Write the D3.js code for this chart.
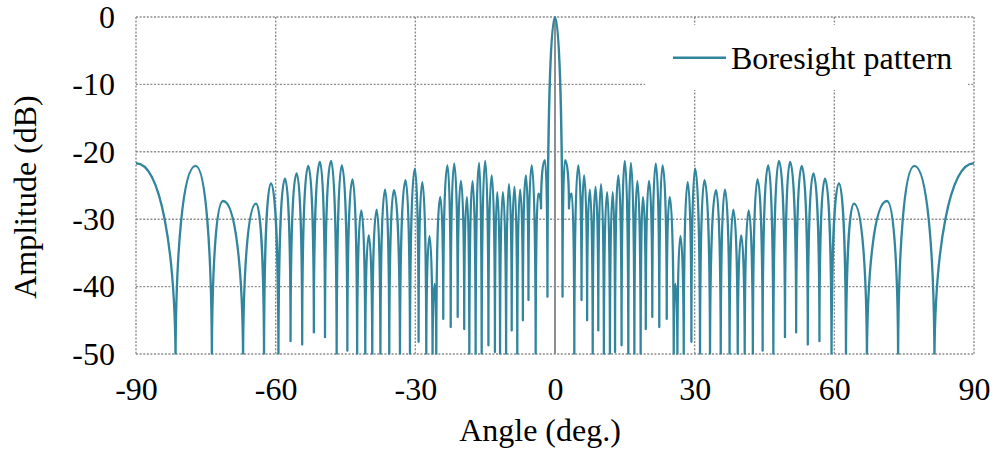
<!DOCTYPE html>
<html>
<head>
<meta charset="utf-8">
<script src="https://cdn.jsdelivr.net/npm/d3@7"></script>
<style>
  html, body { margin: 0; padding: 0; background: #fff; }
  svg { display: block; }
  text { font-family: "Liberation Serif", "Times New Roman", serif; fill: #000; }
</style>
</head>
<body>
<svg id="chart" width="996" height="454"></svg>
<script>
// Boresight array pattern: lobe peaks and nulls (angle in degrees, level in dB).
// Nulls deeper than the plotted floor are listed at -52 dB and clipped at -50.
const angleDeg = [
  -90, -81.5, -77.2, -73.7, -71.3, -67.0, -64.2, -62.5, -61.0, -59.4,
  -58.0, -56.8, -55.5, -54.3, -53.0, -51.8, -50.5, -49.4, -48.1, -46.9,
  -45.8, -44.6, -43.5, -42.5, -41.6, -40.75, -40.0, -39.25, -38.3, -37.5,
  -36.5, -35.6, -34.6, -33.3, -32.1, -31.15, -30.1, -29.3, -28.5, -27.65,
  -26.95, -26.3, -25.85, -25.5, -24.65, -24.0, -23.1, -22.4, -21.65, -20.9,
  -20.2, -19.5, -18.9, -18.4, -17.7, -17.05, -16.3, -15.75, -15.0, -14.3,
  -13.6, -12.9, -12.4, -11.8, -11.2, -10.5, -9.9, -9.3, -8.7, -8.1,
  -7.5, -6.9, -6.25, -5.7, -5.0, -4.15, -3.6, -3.0, -2.15, -1.62,
  0,
  1.62, 2.15, 3.0, 3.6, 4.15, 5.0, 5.7, 6.25, 6.9, 7.5,
  8.1, 8.7, 9.3, 9.9, 10.5, 11.2, 11.8, 12.4, 12.9, 13.6,
  14.3, 15.0, 15.75, 16.3, 17.05, 17.7, 18.4, 18.9, 19.5, 20.2,
  20.9, 21.65, 22.4, 23.1, 24.0, 24.65, 25.5, 25.85, 26.3, 26.95,
  27.65, 28.5, 29.3, 30.1, 31.15, 32.1, 33.3, 34.6, 35.6, 36.5,
  37.5, 38.3, 39.25, 40.0, 40.75, 41.6, 42.5, 43.5, 44.6, 45.8,
  46.9, 48.1, 49.4, 50.5, 51.8, 53.0, 54.3, 55.5, 56.8, 58.0,
  59.4, 61.0, 62.5, 64.2, 67.0, 71.3, 73.7, 77.2, 81.5, 90
];

const boresightDb = [
  -21.7, -52, -22.1, -52, -27.3, -52, -27.7, -52, -24.7, -52,
  -24.0, -48.1, -23.2, -48.6, -22.1, -46.8, -21.5, -47.5, -21.35, -52,
  -22.0, -49.5, -24.1, -52, -28.7, -52, -32.4, -52, -28.6, -52,
  -25.6, -52, -25.7, -52, -24.2, -52, -22.5, -48.2, -24.5, -52,
  -32.5, -52, -39.6, -52, -26.7, -44.8, -22.0, -46.0, -21.75, -44.5,
  -24.3, -46.3, -26.7, -52, -24.35, -52, -21.65, -52, -21.35, -48.7,
  -23.5, -49.7, -26.0, -52, -26.0, -52, -24.8, -46.5, -25.2, -52,
  -25.6, -45.0, -23.5, -42.0, -22.0, -52, -26.2, -28.4, -21.25, -41.5,
  0,
  -41.5, -21.25, -28.4, -26.2, -52, -22.0, -42.0, -23.5, -45.0, -25.6,
  -52, -25.2, -46.5, -24.8, -52, -26.0, -52, -26.0, -49.7, -23.5,
  -48.7, -21.35, -52, -21.65, -52, -24.35, -52, -26.7, -46.3, -24.3,
  -44.5, -21.75, -46.0, -22.0, -44.8, -26.7, -52, -39.6, -52, -32.5,
  -52, -24.5, -48.2, -22.5, -52, -24.2, -52, -25.7, -52, -25.6,
  -52, -28.6, -52, -32.4, -52, -28.7, -52, -24.1, -49.5, -22.0,
  -52, -21.35, -47.5, -21.5, -46.8, -22.1, -48.6, -23.2, -48.1, -24.0,
  -52, -24.7, -52, -27.7, -52, -27.3, -52, -22.1, -52, -21.7
];

const xTicks = [-90, -60, -30, 0, 30, 60, 90];
const yTicks = [0, -10, -20, -30, -40, -50];
const seriesName = "Boresight pattern";

const lineColor = "#31859c";
const gridColor = "#8c8c8c";

const svg = d3.select("#chart");
const plot = { left: 136, right: 974, top: 17, bottom: 354 };

const x = d3.scaleLinear().domain([-90, 90]).range([plot.left, plot.right]);
const y = d3.scaleLinear().domain([-50, 0]).range([plot.bottom, plot.top]);

// Dotted grid, including the frame at the domain limits
const grid = svg.append("g");
grid.selectAll("line.h").data(yTicks).join("line")
  .attr("x1", plot.left).attr("x2", plot.right)
  .attr("y1", d => y(d)).attr("y2", d => y(d))
  .attr("stroke", gridColor).attr("stroke-width", 1.4).attr("stroke-dasharray", "2,1.6");
grid.selectAll("line.v").data(xTicks.filter(d => d !== 0)).join("line")
  .attr("x1", d => x(d)).attr("x2", d => x(d))
  .attr("y1", plot.top).attr("y2", plot.bottom)
  .attr("stroke", gridColor).attr("stroke-width", 1.4).attr("stroke-dasharray", "2,1.6");

// Solid vertical axis line at 0 degrees
svg.append("line")
  .attr("x1", x(0)).attr("x2", x(0))
  .attr("y1", y(0)).attr("y2", y(-50))
  .attr("stroke", "#8f8f8f").attr("stroke-width", 2);

// Lobe curve: rounded at each peak, cusped at each null
const K = 0.6;
class LobeCurve {
  constructor(context) { this._context = context; }
  areaStart() { this._line = 0; }
  areaEnd() { this._line = NaN; }
  lineStart() { this._point = 0; }
  lineEnd() {}
  point(px, py) {
    px = +px; py = +py;
    if (this._point === 0) {
      this._point = 1;
      this._context.moveTo(px, py);
    } else {
      const x0 = this._x0, y0 = this._y0, dx = px - x0, dy = py - y0;
      if (py > y0) {
        this._context.bezierCurveTo(x0 + K * dx, y0, px, py - K * dy, px, py);
      } else {
        this._context.bezierCurveTo(x0, y0 + K * dy, px - K * dx, py, px, py);
      }
    }
    this._x0 = px; this._y0 = py;
  }
}
const lobeCurve = context => new LobeCurve(context);

svg.append("clipPath").attr("id", "plotClip")
  .append("rect")
  .attr("x", plot.left - 2).attr("y", 0)
  .attr("width", plot.right - plot.left + 4).attr("height", plot.bottom + 0.5);

const points = angleDeg.map((a, i) => [a, boresightDb[i]]);
const line = d3.line().x(d => x(d[0])).y(d => y(d[1])).curve(lobeCurve);

svg.append("path")
  .attr("clip-path", "url(#plotClip)")
  .attr("d", line(points))
  .attr("fill", "none")
  .attr("stroke", lineColor)
  .attr("stroke-width", 2.3)
  .attr("stroke-linejoin", "round");

// Axes (labels only); plain hyphen for negative values
const plainNumber = d => String(d);
const xAxis = svg.append("g")
  .attr("transform", `translate(0,${plot.bottom})`)
  .call(d3.axisBottom(x).tickValues(xTicks).tickSize(0).tickPadding(23).tickFormat(plainNumber));
const yAxis = svg.append("g")
  .attr("transform", `translate(${plot.left},0)`)
  .call(d3.axisLeft(y).tickValues(yTicks).tickSize(0).tickPadding(21).tickFormat(plainNumber));
[xAxis, yAxis].forEach(g => {
  g.select(".domain").remove();
  g.selectAll("text")
    .attr("font-family", "Liberation Serif, Times New Roman, serif")
    .attr("font-size", 32).attr("fill", "#000");
});

svg.append("text")
  .attr("x", 540).attr("y", 441)
  .attr("text-anchor", "middle").attr("font-size", 32)
  .text("Angle (deg.)");

svg.append("text")
  .attr("transform", "translate(36,197) rotate(-90)")
  .attr("text-anchor", "middle").attr("font-size", 32)
  .text("Amplitude (dB)");

// Legend
const legend = svg.append("g");
legend.append("rect")
  .attr("x", 645).attr("y", 25).attr("width", 323).attr("height", 65)
  .attr("fill", "#fff");
legend.append("line")
  .attr("x1", 673).attr("x2", 726).attr("y1", 57.7).attr("y2", 57.7)
  .attr("stroke", lineColor).attr("stroke-width", 2.4);
legend.append("text")
  .attr("x", 731).attr("y", 69).attr("font-size", 32)
  .text(seriesName);
</script>
</body>
</html>
